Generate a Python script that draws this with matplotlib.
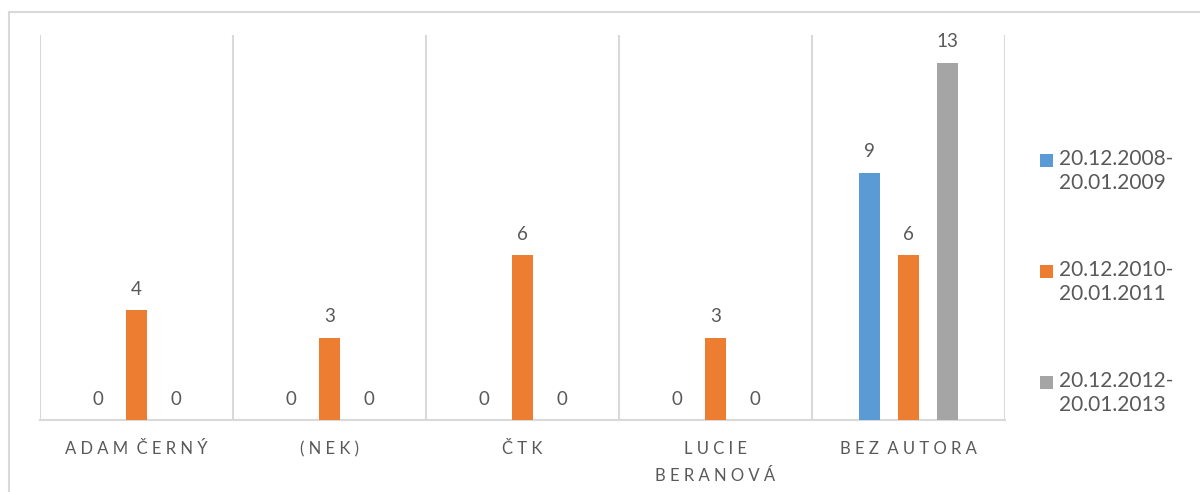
import matplotlib.pyplot as plt
import numpy as np
from matplotlib.patches import Rectangle

plt.rcParams['font.family'] = ['Lato', 'DejaVu Sans']

categories = ["ADAM ČERNÝ", "(NEK)", "ČTK", "LUCIE\nBERANOVÁ", "BEZ AUTORA"]
series_names = ["20.12.2008-\n20.01.2009", "20.12.2010-\n20.01.2011", "20.12.2012-\n20.01.2013"]
vals_2008 = [0, 0, 0, 0, 9]
vals_2010 = [4, 3, 6, 3, 6]
vals_2012 = [0, 0, 0, 0, 13]
colors = ["#5B9BD5", "#ED7D31", "#A5A5A5"]


def spaced(s):
    # emulate the wide letter spacing of the original axis labels
    return "\n".join(" ".join(list(line)).replace("   ", "  ") for line in s.split("\n"))


fig = plt.figure(figsize=(12, 4.92), dpi=100)
fig.patches.append(Rectangle((9 / 1200, -0.1), 1.2, 1 - 12 / 492 + 0.1,
                             transform=fig.transFigure, fill=False,
                             edgecolor="#D9D9D9", linewidth=1.5))
ax = fig.add_axes([40 / 1200, 1 - 420 / 492, 965 / 1200, 385 / 492])

x = np.arange(len(categories))
w = 0.104
off = 0.202
text_col = "#595959"
for i, (vals, col) in enumerate(zip([vals_2008, vals_2010, vals_2012], colors)):
    xs = x + (i - 1) * off
    ax.bar(xs, vals, width=w, color=col, zorder=3)
    for xi, v in zip(xs, vals):
        ax.text(xi, v + 0.45, str(v), ha="center", va="bottom",
                fontsize=13.5, color=text_col)

ax.set_xlim(-0.5, len(categories) - 0.5)
ax.set_ylim(0, 14)
ax.set_yticks([])
ax.set_xticks(x)
ax.set_xticklabels([spaced(c) for c in categories], fontsize=12, color=text_col,
                   linespacing=1.85)
ax.tick_params(axis="x", length=0, pad=15)
for b in np.arange(-0.5, len(categories), 1.0):
    ax.axvline(b, color="#D9D9D9", linewidth=1.5, zorder=1)
for s in ["top", "left", "right"]:
    ax.spines[s].set_visible(False)
ax.spines["bottom"].set_color("#D9D9D9")
ax.spines["bottom"].set_linewidth(1.5)

# legend drawn by hand so the square lines up with the first text line
for i, (name, col) in enumerate(zip(series_names, colors)):
    yc = 1 - (160 + 111 * i) / 492
    fig.patches.append(Rectangle((1040 / 1200, yc - 6.5 / 492), 13 / 1200, 13 / 492,
                                 transform=fig.transFigure, facecolor=col,
                                 edgecolor="none"))
    fig.text(1059 / 1200, yc + 11 / 492, name, ha="left", va="top",
             fontsize=15, color=text_col, linespacing=1.25)

fig.savefig("out.png", dpi=100)
